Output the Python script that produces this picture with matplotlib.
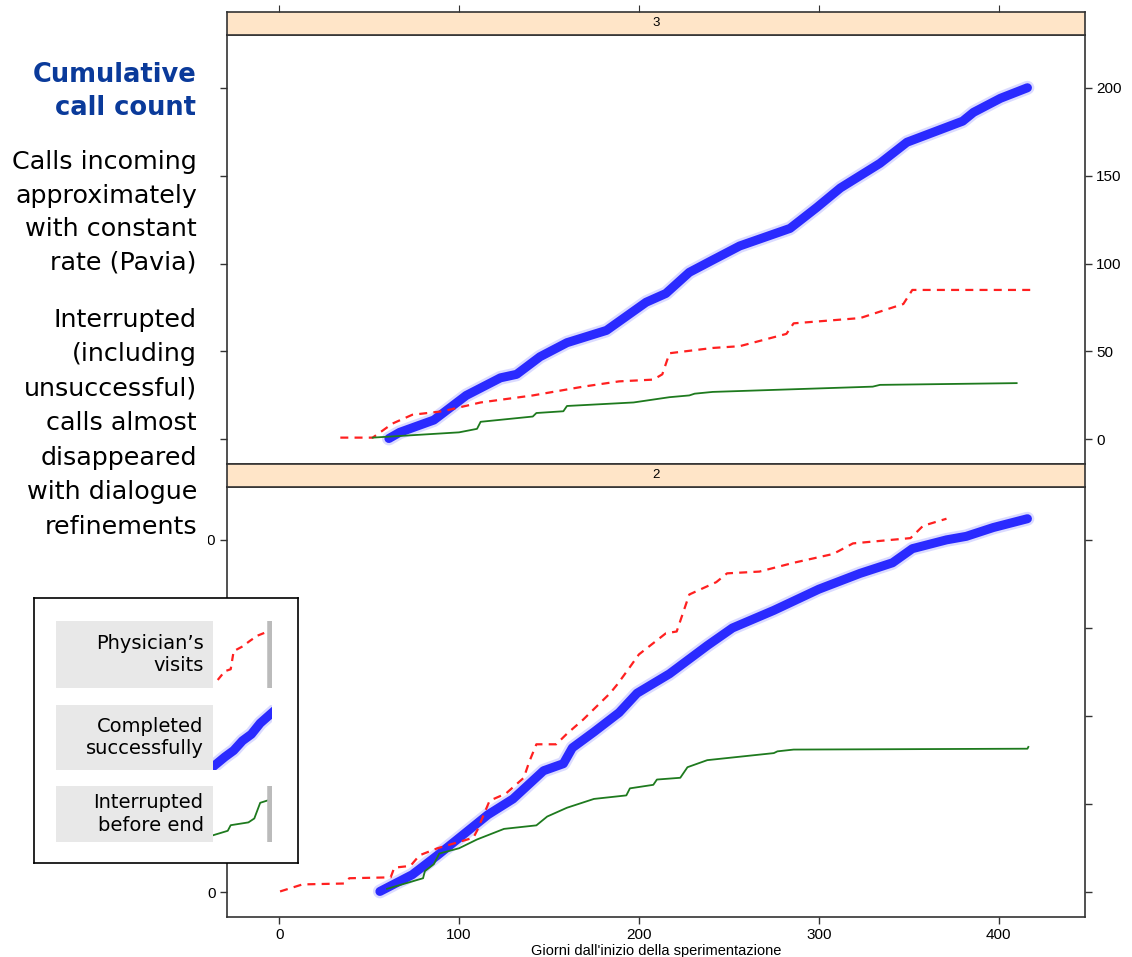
import matplotlib
matplotlib.use("Agg")
import matplotlib.pyplot as plt
from matplotlib.patches import Rectangle
from matplotlib.ticker import FuncFormatter

# --- panel "3" (top) ---
p3_visits_x = [34, 52, 63, 74, 91, 112, 141, 169, 189, 208, 213, 217, 241, 256, 282, 286, 323, 347, 352, 418]
p3_visits_y = [1, 1, 9, 14, 16, 21, 25, 30, 33, 34, 37, 49, 52, 53, 60, 66, 69, 77, 85, 85]
p3_done_x = [61, 67, 86, 104, 123, 132, 145, 160, 182, 204, 215, 228, 241, 256, 284, 299, 312, 334, 349, 380, 386, 401, 416]
p3_done_y = [0.5, 4, 11, 25, 35, 37, 47, 55, 62, 78, 83, 95, 102, 110, 120, 132, 143, 157, 169, 181, 186, 194, 200]
p3_intr_x = [52, 100, 110, 112, 141, 143, 158, 160, 197, 217, 228, 231, 241, 330, 334, 410]
p3_intr_y = [1, 4, 6, 10, 13, 15, 16, 19, 21, 24, 25, 26, 27, 30, 31, 32]

# --- panel "2" (bottom) ---
p2_visits_x = [0.5, 13, 36, 39, 62, 64, 73, 78, 88, 108, 110, 117, 126, 136, 139, 143, 154, 160, 169, 184,
               188, 193, 200, 215, 221, 228, 243, 249, 267, 286, 308, 319, 351, 358, 371]
p2_visits_y = [0.5, 4.5, 5, 8, 8.5, 14, 15, 21, 25, 31, 35, 52, 56, 65, 74, 84, 84, 90, 98, 113,
               118, 125, 135, 147, 148, 169, 176, 181, 182, 187, 192, 198, 201, 208, 212]
p2_done_x = [56, 74, 88, 99, 116, 130, 147, 158, 163, 175, 189, 199, 217, 238, 252, 275, 300, 323, 341, 352,
             371, 382, 397, 416]
p2_done_y = [0.5, 10, 21, 30, 44, 53, 69, 73, 82, 91, 102, 113, 124, 140, 150, 160, 172, 181, 187, 195,
             200, 202, 207, 212]
p2_intr_x = [60, 80, 81, 86, 89, 100, 110, 125, 143, 149, 160, 175, 193, 195, 208, 210, 223, 227, 238, 275,
             277, 286, 416, 416.5]
p2_intr_y = [2, 8, 12, 16, 22, 25, 30, 36, 38, 43, 48, 53, 55, 59, 61, 64, 65, 71, 75, 79,
             80, 81, 81.5, 82.5]

x_ticks = [0, 100, 200, 300, 400]
y_ticks = [0, 50, 100, 150, 200]
# left labels of the lower panel that are not hidden behind the legend box
visible_left = [0, 200]
x_label = "Giorni dall'inizio della sperimentazione"

legend_labels = ["Physician\u2019s\nvisits", "Completed\nsuccessfully", "Interrupted\nbefore end"]
# little sample curves inside the legend (unit box coordinates)
leg_visits_x = [0.08, 0.2, 0.3, 0.35, 0.5, 0.62, 0.75, 0.95]
leg_visits_y = [0.12, 0.25, 0.28, 0.55, 0.62, 0.7, 0.78, 0.85]
leg_done_x = [0.0, 0.2, 0.35, 0.5, 0.65, 0.8, 1.0]
leg_done_y = [0.05, 0.2, 0.3, 0.45, 0.55, 0.72, 0.88]
leg_intr_x = [0.0, 0.25, 0.3, 0.6, 0.7, 0.8, 0.95]
leg_intr_y = [0.12, 0.2, 0.3, 0.35, 0.42, 0.7, 0.75]

side_title = "Cumulative\ncall count"
side_text1 = "Calls incoming\napproximately\nwith constant\nrate (Pavia)"
side_text2 = "Interrupted\n(including\nunsuccessful)\ncalls almost\ndisappeared\nwith dialogue\nrefinements"

RED = "#ff2020"
BLUE = "#2a2aff"
GREEN = "#1e7a1e"
STRIP = "#ffe5c8"
FRAME = "#333333"
W, H = 1132, 957


def fx(px):
    return px / W


def fy(py):
    return 1 - py / H


def draw_series(ax, vx, vy, dx, dy, ix, iy):
    ax.plot(dx, dy, color="#7070ff", lw=10, alpha=0.25, solid_capstyle="round", zorder=2)
    ax.plot(dx, dy, color=BLUE, lw=6.5, solid_capstyle="round", zorder=3)
    ax.plot(vx, vy, color=RED, lw=1.6, dashes=(3.6, 2.8), zorder=4)
    ax.plot(ix, iy, color=GREEN, lw=1.3, zorder=4)


def style_panel(ax):
    ax.set_xlim(-29, 448)
    ax.set_ylim(-14, 230)
    for s in ax.spines.values():
        s.set_color(FRAME)
        s.set_linewidth(1.2)
    ax.set_yticks(y_ticks)
    ax.set_xticks(x_ticks)
    ax.tick_params(direction="out", length=5, width=1, color=FRAME, labelsize=11, pad=3)


def add_strip(px_top, label):
    st = fig.add_axes([fx(227), fy(px_top + 23), fx(858), 23 / H])
    st.set_facecolor(STRIP)
    st.set_xlim(-29, 448)
    st.set_yticks([])
    for s in st.spines.values():
        s.set_color(FRAME)
        s.set_linewidth(1.2)
    st.text(0.5, 0.5, label, transform=st.transAxes, ha="center", va="center", fontsize=9.5)
    return st


plt.rcParams["font.family"] = ["Liberation Sans", "DejaVu Sans"]
fig = plt.figure(figsize=(W / 100, H / 100), dpi=100)

# top panel (3)
ax3 = fig.add_axes([fx(227), fy(464), fx(858), 429 / H])
draw_series(ax3, p3_visits_x, p3_visits_y, p3_done_x, p3_done_y, p3_intr_x, p3_intr_y)
style_panel(ax3)
ax3.tick_params(axis="x", bottom=False, labelbottom=False)
ax3.tick_params(axis="y", left=True, right=True, labelleft=False, labelright=True)
st3 = add_strip(12, "3")
st3.set_xticks(x_ticks)
st3.tick_params(axis="x", top=True, bottom=False, labeltop=False, labelbottom=False,
                direction="out", length=5, color=FRAME)

# bottom panel (2)
ax2 = fig.add_axes([fx(227), fy(917), fx(858), 430 / H])
draw_series(ax2, p2_visits_x, p2_visits_y, p2_done_x, p2_done_y, p2_intr_x, p2_intr_y)
style_panel(ax2)
ax2.tick_params(axis="y", left=True, right=True, labelleft=True, labelright=False)
ax2.yaxis.set_major_formatter(FuncFormatter(lambda v, p: f"{v:g}" if v in visible_left else ""))
ax2.set_xlabel(x_label, fontsize=10.5, labelpad=1)
st2 = add_strip(464, "2")
st2.set_xticks([])

# the slide text column hides most of the "200" label: clip it to the visible strip
fig.canvas.draw()
clip = Rectangle((208, 0), W, H, transform=None, facecolor="none", edgecolor="none")
for lbl in ax2.get_yticklabels():
    if lbl.get_text() == "200":
        lbl.set_clip_path(clip)

# slide text column on the left
fig.text(fx(196), fy(62), side_title, ha="right", va="top", fontsize=18.5, fontweight="bold",
         color="#0a3a9a", family="DejaVu Sans", linespacing=1.36, zorder=6)
fig.text(fx(197), fy(150), side_text1, ha="right", va="top", fontsize=18.3,
         family="DejaVu Sans", linespacing=1.5, zorder=6)
fig.text(fx(197), fy(308), side_text2, ha="right", va="top", fontsize=18.3,
         family="DejaVu Sans", linespacing=1.55, zorder=6)

# legend box
lg = fig.add_axes([fx(34), fy(863), fx(264), 265 / H], zorder=10)
lg.set_xticks([])
lg.set_yticks([])
for s in lg.spines.values():
    s.set_color("black")
    s.set_linewidth(1.2)

rows = [(621, 688), (705, 770), (786, 842)]
samples = [(leg_visits_x, leg_visits_y), (leg_done_x, leg_done_y), (leg_intr_x, leg_intr_y)]
for i, ((y0, y1), lab, (sx, sy)) in enumerate(zip(rows, legend_labels, samples)):
    lab_ax = fig.add_axes([fx(56), fy(y1), fx(157), (y1 - y0) / H], zorder=11)
    lab_ax.set_facecolor("#e8e8e8")
    lab_ax.set_xticks([])
    lab_ax.set_yticks([])
    for s in lab_ax.spines.values():
        s.set_visible(False)
    lab_ax.text(0.94, 0.5, lab, transform=lab_ax.transAxes, ha="right", va="center",
                fontsize=14, family="DejaVu Sans", linespacing=1.25)

    sm = fig.add_axes([fx(213), fy(y1), fx(59), (y1 - y0) / H], zorder=11)
    sm.set_xlim(0, 1)
    sm.set_ylim(0, 1)
    sm.set_xticks([])
    sm.set_yticks([])
    for s in sm.spines.values():
        s.set_visible(False)
    if i == 0:
        sm.plot(sx, sy, color=RED, lw=1.6, dashes=(3.2, 2.6))
    elif i == 1:
        sm.plot(sx, sy, color="#7070ff", lw=10, alpha=0.25)
        sm.plot(sx, sy, color=BLUE, lw=6.5)
    else:
        sm.plot(sx, sy, color=GREEN, lw=1.3)
    if i != 1:
        sm.axvline(0.96, color="#bbbbbb", lw=4)

fig.savefig("out.png", dpi=100)
